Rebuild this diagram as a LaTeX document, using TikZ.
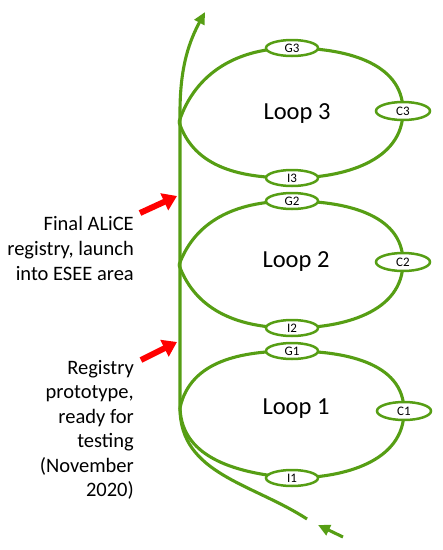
\documentclass[tikz,border=0pt]{standalone}
\usepackage{fontspec}
\setmainfont{Carlito}
\usetikzlibrary{arrows.meta,shapes.geometric}
\definecolor{lg}{RGB}{86,158,20}
\definecolor{rd}{RGB}{255,0,0}
\begin{document}
\begin{tikzpicture}[x=1pt,y=-1pt,
  cyc/.style={draw=lg,line width=3.1pt},
  ell/.style={ellipse,draw=lg,line width=2.5pt,fill=white,minimum width=52pt,minimum height=16pt,inner sep=0pt,font=\fontsize{13}{13}\selectfont},
  cell/.style={ell,minimum width=54pt,minimum height=18pt},
  looplbl/.style={font=\fontsize{24.5}{24.5}\selectfont},
  side/.style={anchor=east,align=right,inner sep=0pt},
  redarr/.style={draw=rd,line width=6pt,-{Triangle[length=14pt,width=18pt]}},
  grnarr/.style={draw=lg,line width=3.1pt,-{Triangle[length=12pt,width=11pt]}}]
\useasboundingbox (0,0) rectangle (443,550);
% coordinates
\coordinate (T) at (307,519);
\coordinate (L1) at (180,408);
\coordinate (L2) at (179,265);
\coordinate (L3) at (179,122);
\coordinate (V) at (180,112);
\coordinate (A) at (205,12);
\coordinate (BS) at (343,537);
\coordinate (BT) at (318,525);
\coordinate (R1s) at (140,213);
\coordinate (R1t) at (177,196);
\coordinate (R2s) at (141,360);
\coordinate (R2t) at (177,342);
% main path
\draw[cyc] (T) to[out=147,in=-90] (L1) -- (V);
\draw[grnarr] (V) .. controls (180,65) and (190,40) .. (A);
\draw[grnarr] (BS) -- (BT);
% loops curves
\path (292,48) node (G3) {};
\path (403,111) node (C3) {};
\path (292,178) node (I3) {};
\path (292,201) node (G2) {};
\path (403,262) node (C2) {};
\path (292,328) node (I2) {};
\path (292,351) node (G1) {};
\path (404,411) node (C1) {};
\path (292,478) node (I1) {};
\draw[cyc] (L3) to[out=72,in=180] (G3.center) to[out=0,in=90] (C3.center) to[out=-90,in=0] (I3.center) to[out=180,in=-72] (L3);
\draw[cyc] (L2) to[out=70,in=180] (G2.center) to[out=0,in=90] (C2.center) to[out=-90,in=0] (I2.center) to[out=180,in=-70] (L2);
\draw[cyc] (L1) to[out=78,in=180] (G1.center) to[out=0,in=90] (C1.center) to[out=-90,in=0] (I1.center) to[out=175,in=-88] (L1);
% ellipse nodes
\node[ell] at (G3) {G3};
\node[cell] at (C3) {C3};
\node[ell] at (I3) {I3};
\node[ell] at (G2) {G2};
\node[cell] at (C2) {C2};
\node[ell] at (I2) {I2};
\node[ell] at (G1) {G1};
\node[cell] at (C1) {C1};
\node[ell] at (I1) {I1};
% loop labels
\node[looplbl] (t3) at (297,114) {Loop 3};
\node[looplbl] (t2) at (296,262) {Loop 2};
\node[looplbl] (t1) at (296,409) {Loop 1};
% side labels
\node[side,font=\fontsize{20.5}{25}\selectfont] (s1) at (134,248) {Final ALiCE\\registry, launch\\into ESEE area};
\node[side,font=\fontsize{20.5}{24.5}\selectfont] (s2) at (134,430) {Registry\\prototype,\\ready for\\testing\\(November\\2020)};
% red arrows
\draw[redarr] (R1s) -- (R1t);
\draw[redarr] (R2s) -- (R2t);
\end{tikzpicture}
\end{document}
